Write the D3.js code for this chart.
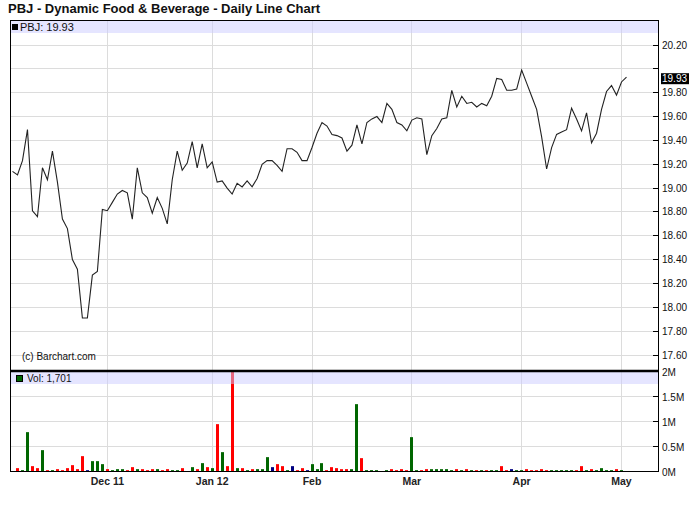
<!DOCTYPE html>
<html><head><meta charset="utf-8">
<script src="https://cdn.jsdelivr.net/npm/d3@7"></script>
<style>
html,body{margin:0;padding:0;background:#fff;}
svg text{font-family:"Liberation Sans",Arial,Helvetica,sans-serif;}
</style></head>
<body>
<svg id="chart" width="700" height="512"></svg>
<script>
// ---- data ----
const closes = [
19.14,19.11,19.23,19.49,18.81,18.76,19.17,19.07,19.31,19.05,
18.74,18.66,18.40,18.32,17.91,17.91,18.27,18.30,18.82,18.81,
18.88,18.95,18.98,18.96,18.74,19.17,18.96,18.92,18.79,18.92,
18.83,18.70,19.07,19.31,19.15,19.21,19.39,19.17,19.37,19.17,
19.22,19.05,19.06,19.00,18.95,19.04,19.01,19.06,19.01,19.08,
19.20,19.23,19.23,19.19,19.14,19.33,19.33,19.30,19.23,19.23,
19.34,19.46,19.55,19.52,19.45,19.44,19.42,19.31,19.36,19.53,
19.37,19.55,19.58,19.60,19.55,19.71,19.66,19.55,19.53,19.48,
19.57,19.59,19.58,19.28,19.44,19.50,19.58,19.59,19.82,19.68,
19.77,19.71,19.72,19.68,19.71,19.69,19.77,19.92,19.91,19.82,
19.82,19.83,19.99,19.88,19.77,19.66,19.43,19.16,19.34,19.45,
19.47,19.49,19.67,19.58,19.48,19.63,19.38,19.46,19.66,19.81,
19.86,19.78,19.89,19.93];
// volume in thousands of shares
const volumes = [
0,67,27,787,107,67,427,27,27,47,
27,67,127,47,307,27,207,207,147,47,
27,47,47,27,87,47,47,27,47,47,
27,47,27,27,67,3,87,47,167,87,
67,947,387,107,2050,67,67,27,47,47,
47,287,87,147,107,27,107,27,67,27,
147,47,167,27,87,67,47,47,47,1347,
267,27,27,27,3,27,47,27,47,27,
687,27,27,47,47,47,47,47,27,47,
27,47,27,27,27,27,27,27,107,27,
47,27,27,47,27,27,47,27,27,27,
27,27,27,27,107,27,47,27,67,27,
27,47,27,1.701];
const monthLabels = ["Dec 11","Jan 12","Feb","Mar","Apr","May"];
const monthIndex  = [19,40,60,80,102,122];
const priceTicks = ["17.60","17.80","18.00","18.20","18.40","18.60","18.80","19.00","19.20","19.40","19.60","19.80","20.00","20.20"];
const volTicks = [0,500,1000,1500,2000];
const volTickLabels = ["0M","0.5M","1M","1.5M","2M"];
const titleText = "PBJ - Dynamic Food & Beverage - Daily Line Chart";
const symbol = "PBJ";
const lastVolText = "1,701";

// ---- layout ----
const L = 10, R = 658, T = 20, SEP = 371, B = 471;
const svg = d3.select("#chart");
const x = d3.scaleLinear().domain([0, closes.length - 1]).range([12.5, 626.5]);
const y = d3.scaleLinear().domain([17.60, 20.20]).range([355, 45]);
const yv = d3.scaleLinear().domain([0, 2000]).range([471.5, 371.5]);
const snap = v => Math.floor(v) + 0.5;
const grid = "#dcdcdc";

// title
svg.append("text").attr("x", 8).attr("y", 13)
  .attr("font-size", 13).attr("font-weight", "bold").attr("fill", "#111")
  .text(titleText);

// clip paths
const defs = svg.append("defs");
defs.append("clipPath").attr("id","cp").append("rect").attr("x",L).attr("y",T).attr("width",R-L).attr("height",SEP-T);
defs.append("clipPath").attr("id","cv").append("rect").attr("x",L).attr("y",SEP).attr("width",R-L).attr("height",B-SEP);

// horizontal grid (price)
svg.append("g").selectAll("line").data(priceTicks).join("line")
  .attr("x1", L).attr("x2", R)
  .attr("y1", d => snap(y(+d))).attr("y2", d => snap(y(+d)))
  .attr("stroke", grid).attr("stroke-width", 1);
// horizontal grid (volume)
svg.append("g").selectAll("line").data(volTicks.slice(1, 4)).join("line")
  .attr("x1", L).attr("x2", R)
  .attr("y1", d => snap(yv(d))).attr("y2", d => snap(yv(d)))
  .attr("stroke", grid).attr("stroke-width", 1);
// vertical grid
svg.append("g").selectAll("line").data(monthIndex).join("line")
  .attr("x1", d => snap(x(d))).attr("x2", d => snap(x(d)))
  .attr("y1", T).attr("y2", B)
  .attr("stroke", grid).attr("stroke-width", 1);

// volume bars
const colorFor = i => {
  if (i === 0) return "#006600";
  const d = closes[i] - closes[i-1];
  if (Math.abs(d) < 1e-9) return "#000080";
  return d > 0 ? "#006600" : "#ff0000";
};
svg.append("g").attr("clip-path","url(#cv)").selectAll("rect").data(volumes).join("rect")
  .attr("x", (d,i) => Math.round(x(i) - 1.5))
  .attr("width", 3)
  .attr("y", d => yv(d))
  .attr("height", d => Math.max(0, 471 - yv(d)))
  .attr("fill", (d,i) => colorFor(i));

// price line
svg.append("path").attr("clip-path","url(#cp)")
  .datum(closes)
  .attr("d", d3.line().x((d,i) => x(i)).y(d => y(d)))
  .attr("fill", "none").attr("stroke", "#222").attr("stroke-width", 1.1);

// legend bands (semi transparent)
svg.append("rect").attr("x", L).attr("y", T+1).attr("width", R-L).attr("height", 12)
  .attr("fill", "rgb(204,204,255)").attr("fill-opacity", 0.5);
svg.append("rect").attr("x", L).attr("y", SEP+1).attr("width", R-L).attr("height", 12)
  .attr("fill", "rgb(204,204,255)").attr("fill-opacity", 0.5);

// legends
svg.append("rect").attr("x", 12).attr("y", 24).attr("width", 6).attr("height", 6).attr("fill", "#000");
svg.append("text").attr("x", 20).attr("y", 31).attr("font-size", 11).attr("fill", "#111")
  .text(symbol + ": " + d3.format(".2f")(closes[closes.length-1]));
svg.append("rect").attr("x", 16.5).attr("y", 375.5).attr("width", 6).attr("height", 6)
  .attr("fill", "#006600").attr("stroke", "#000").attr("stroke-width", 1);
svg.append("text").attr("x", 27).attr("y", 382).attr("font-size", 10).attr("fill", "#111")
  .text("Vol: " + lastVolText);

// copyright
svg.append("text").attr("x", 22).attr("y", 360).attr("font-size", 10).attr("fill", "#111")
  .text("(c) Barchart.com");

// frame lines
svg.append("line").attr("x1", L).attr("x2", R).attr("y1", T+0.5).attr("y2", T+0.5).attr("stroke", "#000");
svg.append("line").attr("x1", L+0.5).attr("x2", L+0.5).attr("y1", T).attr("y2", B+1).attr("stroke", "#000");
svg.append("line").attr("x1", R+0.5).attr("x2", R+0.5).attr("y1", T).attr("y2", B+1).attr("stroke", "#000");
svg.append("line").attr("x1", L).attr("x2", R+1).attr("y1", SEP).attr("y2", SEP).attr("stroke", "#000").attr("stroke-width", 2.5);
svg.append("line").attr("x1", L).attr("x2", R+1).attr("y1", B+0.5).attr("y2", B+0.5).attr("stroke", "#000");

// price axis (right)
const lastY = y(closes[closes.length-1]);
const pa = svg.append("g");
pa.selectAll("line").data(priceTicks).join("line")
  .attr("x1", R-5).attr("x2", R).attr("y1", d => snap(y(+d))).attr("y2", d => snap(y(+d)))
  .attr("stroke", "#000");
pa.selectAll("text").data(priceTicks.filter(d => Math.abs(y(+d) - lastY) > 12)).join("text")
  .attr("x", 662).attr("y", d => y(+d) + 3.5).attr("font-size", 10).attr("fill", "#111")
  .text(d => d);
// last price marker
svg.append("rect").attr("x", 661).attr("y", lastY - 4).attr("width", 28).attr("height", 11).attr("fill", "#000");
svg.append("text").attr("x", 662).attr("y", lastY + 5).attr("font-size", 10).attr("fill", "#fff")
  .text(d3.format(".2f")(closes[closes.length-1]));

// volume axis
const va = svg.append("g");
va.selectAll("line").data(volTicks).join("line")
  .attr("x1", R-5).attr("x2", R).attr("y1", d => snap(yv(d))).attr("y2", d => snap(yv(d)))
  .attr("stroke", "#000");
va.selectAll("text").data(volTicks).join("text")
  .attr("x", 662).attr("y", d => yv(d) + 4).attr("font-size", 10).attr("fill", "#111")
  .text((d,i) => volTickLabels[i]);

// x axis labels
svg.append("g").selectAll("text").data(monthIndex).join("text")
  .attr("x", d => x(d)).attr("y", 485).attr("text-anchor", "middle")
  .attr("font-size", 10.5).attr("font-weight", "bold").attr("fill", "#222")
  .text((d,i) => monthLabels[i]);
</script>
</body></html>
